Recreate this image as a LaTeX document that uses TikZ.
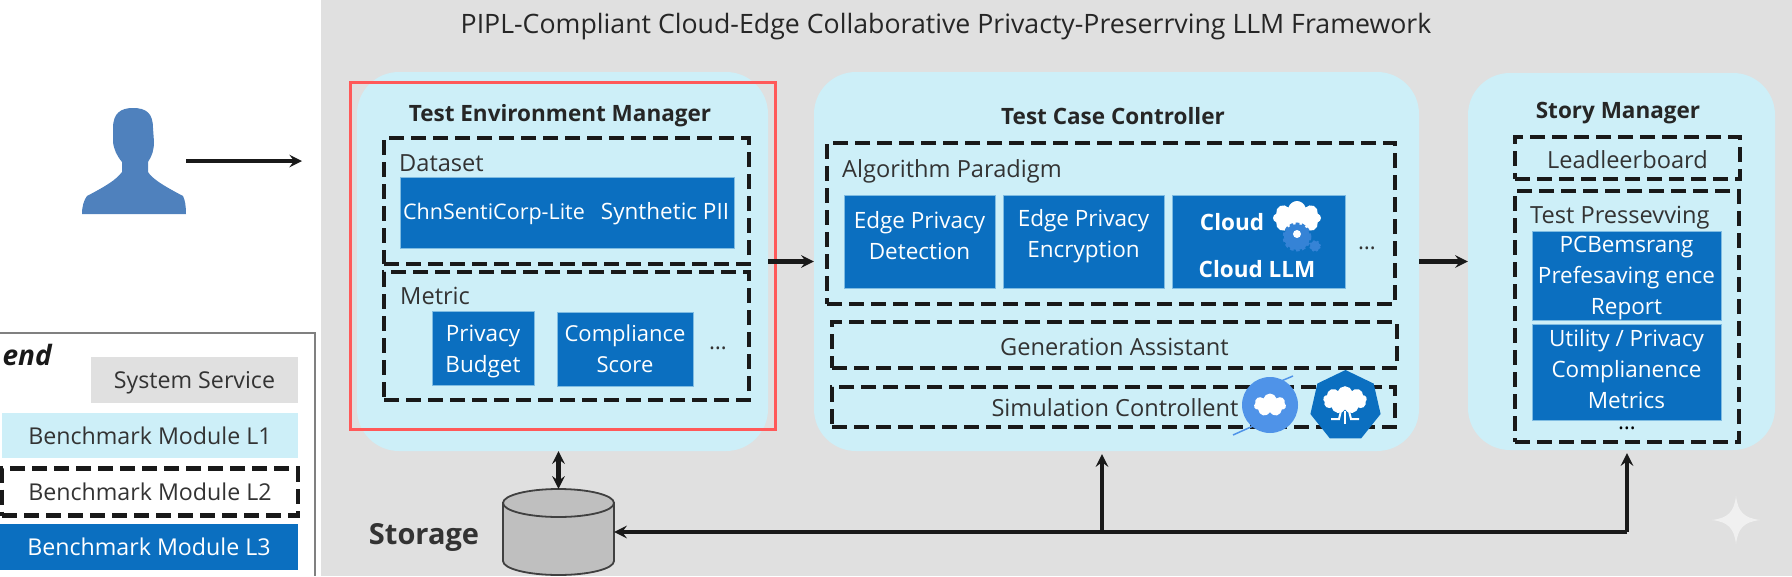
\documentclass[tikz,border=0pt]{standalone}
\usepackage{fontspec}
\setmainfont{Open Sans}
\usetikzlibrary{shapes.geometric,shapes.symbols}
\definecolor{paneGray}{HTML}{E0E0E0}
\definecolor{paneCyan}{HTML}{CDEFF8}
\definecolor{boxBlue}{HTML}{0B6FC0}
\definecolor{personBlue}{HTML}{4F81BD}
\definecolor{badgeBlue}{HTML}{4F93E8}
\definecolor{gearBlue}{HTML}{3583D6}
\definecolor{inkDark}{HTML}{333333}
\begin{document}
\begin{tikzpicture}[x=1pt,y=-1pt,node distance=164pt]
\tikzstyle{service} = [rectangle, fill=paneGray, text=inkDark, inner sep=0pt, text depth=0pt, font=\fontsize{23.2}{31}\selectfont]
\tikzstyle{l1} = [rectangle, rounded corners=42pt, fill=paneCyan, inner sep=0pt]
\tikzstyle{l2} = [rectangle, draw=black!90, line width=4.6pt, dash pattern=on 15pt off 7pt, text=inkDark, inner sep=0pt, font=\fontsize{23.6}{31}\selectfont]
\tikzstyle{l3} = [rectangle, fill=boxBlue, draw=paneCyan!60!boxBlue, line width=0.8pt, text=white, align=center, inner sep=0pt, font=\fontsize{22.5}{31}\selectfont]
\tikzstyle{heading} = [text=black!85, inner sep=0pt, font=\fontsize{22.5}{27}\selectfont\bfseries]
\tikzstyle{tagtext} = [anchor=west, text=inkDark, inner sep=0pt, font=\fontsize{23.6}{27}\selectfont]
\tikzstyle{bluetext} = [text=white, align=center, inner sep=0pt, font=\fontsize{22.5}{31}\selectfont]
\tikzstyle{dots} = [text=inkDark, inner sep=0pt, font=\fontsize{22.5}{27}\selectfont]
\tikzstyle{drum} = [draw=black!75, fill=black!25, line width=1.8pt]
\tikzstyle{arrow} = [line width=4.4pt,->,>=stealth,black!90]
\tikzstyle{twoway} = [line width=4.4pt,<->,>=stealth,black!90]
\useasboundingbox (0,0) rectangle (1792,576);
%
\node (backdrop) [rectangle, fill=paneGray, inner sep=0pt, minimum width=1471pt, minimum height=576pt] at (1056.5,288) {};
\node (maintitle) [text=black!85, inner sep=0pt, font=\fontsize{26.7}{30}\selectfont] at (946,27) {PIPL-Compliant Cloud-Edge Collaborative Privacty-Preserrving LLM Framework};
%
% user on the left
\node (user) [inner sep=0pt, minimum width=104pt, minimum height=106pt] at (134,161) {};
\fill [personBlue] (113,128) .. controls (113,113) and (121,108) .. (133,108) .. controls (146,108) and (153,113) .. (153,128) -- (154,142) .. controls (154,150) and (152,156) .. (148,162) -- (148,172) .. controls (152,178) and (160,184) .. (183,196) .. controls (185,200) and (186,206) .. (186,214) -- (82,214) .. controls (82,206) and (84,200) .. (87,196) .. controls (106,186) and (116,180) .. (122,172) -- (122,162) .. controls (117,156) and (114,150) .. (113,142) -- cycle;
\coordinate (entry) at (302,161);
\draw [arrow] (user.east) -- (entry);
%
% legend
\draw [line width=2.5pt, black!50] (0,333) -- (315,333) -- (315,576);
\node (legendword) [anchor=base east, inner sep=0pt, text=black!90, font=\fontsize{28}{30}\selectfont\bfseries\itshape] at (52,365) {end};
\node (legsys) [service, minimum width=207pt, minimum height=46pt] at (194.5,380) {System Service};
\node (legone) [service, fill=paneCyan, minimum width=296pt, minimum height=45pt] at (150,435.5) {Benchmark Module L1};
\node (legtwo) [l2, font=\fontsize{23.2}{31}\selectfont, minimum width=296pt, minimum height=47pt] at (150,492) {Benchmark Module L2};
\node (legthree) [l3, draw=none, font=\fontsize{23.2}{31}\selectfont, minimum width=298pt, minimum height=46pt] at (149,547) {Benchmark Module L3};
%
% the three managers
\node (envman) [l1, minimum width=411pt, minimum height=379pt] at (562.5,261.5) {};
\node (controller) [l1, minimum width=605pt, minimum height=379pt] at (1116.5,261.5) {};
\node (story) [l1, minimum width=307pt, minimum height=377pt] at (1621.5,261.5) {};
\node (envtitle) [heading] at (560,116) {Test Environment Manager};
\node (ctrltitle) [heading] at (1113,116) {Test Case Controller};
\node (storytitle) [heading] at (1618,113) {Story Manager};
%
% test environment manager
\node (dataset) [l2, minimum width=365pt, minimum height=126pt] at (566.5,201) {};
\node (datasetword) [tagtext] at (399,163) {Dataset};
\node (datablock) [l3, minimum width=334pt, minimum height=71pt] at (567,212.5) {};
\node (chnsenti) [bluetext, font=\fontsize{21.5}{27}\selectfont] at (494,214) {ChnSentiCorp-Lite};
\node (synthetic) [bluetext] at (665,214) {Synthetic PII};
\node (metric) [l2, minimum width=365pt, minimum height=128pt] at (566.5,336) {};
\node (metricword) [tagtext] at (400,296) {Metric};
\node (budget) [l3, minimum width=102pt, minimum height=74pt] at (483,348) {};
\node (budgetword) [bluetext] at (483,351) {Privacy\\Budget};
\node (compliance) [l3, font=\fontsize{22}{31}\selectfont, minimum width=136pt, minimum height=74pt] at (625,349) {Compliance\\Score};
\node (metricdots) [dots] at (718,348) {\ldots};
\node (redframe) [rectangle, draw=red!65!white, line width=3pt, inner sep=0pt, minimum width=425pt, minimum height=347pt] at (562.5,255.5) {};
%
% test case controller
\node (paradigm) [l2, minimum width=568pt, minimum height=161pt] at (1111,223.5) {};
\node (paradigmword) [tagtext] at (842,171) {Algorithm Paradigm};
\node (detection) [l3, minimum width=151pt, minimum height=93pt] at (919.5,241.5) {};
\node (encryption) [l3, minimum width=161pt, minimum height=93pt, right of=detection] {};
\node (cloudllm) [l3, minimum width=173pt, minimum height=93pt, right of=encryption, node distance=175pt] {};
\node (detectword) [bluetext] at (919.5,236) {Edge Privacy\\Detection};
\node (encryptword) [bluetext] at (1083.5,236) {Edge Privacy\\Encryption};
\node (cloudword) [bluetext, font=\fontsize{22.5}{27}\selectfont\bfseries] at (1232,222) {Cloud};
\node (llmword) [bluetext, font=\fontsize{22.5}{27}\selectfont\bfseries] at (1257,269) {Cloud LLM};
\node (puff) [cloud, fill=white, cloud puffs=8, aspect=1.4, inner sep=0pt, minimum width=48pt, minimum height=34pt] at (1297,218) {};
\node (gear) [circle, draw=gearBlue, fill=gearBlue, line width=3pt, dash pattern=on 3.5pt off 2.5pt, inner sep=0pt, minimum size=26pt] at (1297,237) {};
\node (gearhole) [circle, fill=white, inner sep=0pt, minimum size=8pt] at (1297,234) {};
\node (smallgear) [circle, draw=gearBlue, fill=gearBlue, line width=2pt, dash pattern=on 2pt off 2pt, inner sep=0pt, minimum size=10pt] at (1315,246) {};
\node (paradigmdots) [dots] at (1367,248) {\ldots};
\node (generation) [l2, text height=21pt, text depth=0pt, minimum width=565pt, minimum height=46pt] at (1114.5,345) {Generation Assistant};
\node (simulation) [l2, minimum width=563pt, minimum height=40pt] at (1113.5,407) {};
\node (simword) [text=inkDark, inner sep=0pt, font=\fontsize{23.6}{27}\selectfont] at (1115,408) {Simulation Controllent};
%
% cloud badges
\draw [line width=1.5pt, badgeBlue] (1233,435) -- (1262,422);
\draw [line width=1.5pt, badgeBlue] (1274,384) -- (1293,376);
\node (roundbadge) [circle, fill=badgeBlue, inner sep=0pt, minimum size=56pt] at (1270,405) {};
\node (roundpuff) [cloud, fill=white, cloud puffs=7, aspect=1.4, inner sep=0pt, minimum width=32pt, minimum height=23pt] at (1270,405) {};
\node (heptbadge) [regular polygon, regular polygon sides=7, fill=boxBlue, inner sep=0pt, minimum size=72pt] at (1345.5,406) {};
\node (heptpuff) [cloud, draw=white, fill=white, line width=1.5pt, cloud puffs=9, aspect=1.6, inner sep=0pt, minimum width=42pt, minimum height=26pt] at (1345,400) {};
\draw [line width=2pt, white] (1331,419) -- (1339,419) -- (1341,411);
\draw [line width=2pt, white] (1359,419) -- (1351,419) -- (1349,411);
\draw [line width=2pt, white] (1345,411) -- (1345,424);
%
% story manager
\node (board) [l2, text height=21pt, text depth=0pt, minimum width=225pt, minimum height=42pt] at (1627.5,158) {Leadleerboard};
\node (pressing) [l2, minimum width=224pt, minimum height=251pt] at (1627,316.5) {};
\node (pressword) [tagtext] at (1530,218) {Test Pressevving};
\node (report) [l3, minimum width=189pt, minimum height=89pt] at (1626.5,275.5) {};
\node (reportword) [bluetext] at (1626.5,278) {PCBemsrang\\Prefesaving ence\\Report};
\node (utility) [l3, minimum width=189pt, minimum height=96pt] at (1626.5,372) {};
\node (utilityword) [bluetext] at (1626.5,369) {Utility / Privacy\\Complianence\\Metrics};
\node (storydots) [dots, text=black] at (1627,428) {\ldots};
%
% storage
\node (storage) [inner sep=0pt, minimum width=111pt, minimum height=86pt] at (558.5,532) {};
\draw [drum] (503,503) -- (503,561) arc [start angle=180, end angle=0, x radius=55.5, y radius=14] -- (614,503) -- cycle;
\draw [drum] (558.5,503) ellipse [x radius=55.5, y radius=14];
\node (storageword) [text=inkDark, inner sep=0pt, font=\fontsize{29}{32}\selectfont\bfseries] at (424,537) {Storage};
\coordinate (junction) at (1102,532);
\coordinate (corner) at (1627,532);
%
\draw [twoway] (storage.north) -- (storage.north |- envman.south);
\draw [arrow] (envman.east) -- (controller.west);
\draw [arrow] (controller.east) -- (story.west);
\draw [line width=4.4pt, black!90] (corner) -- (junction);
\draw [arrow] (junction) -- (storage.east);
\draw [arrow, shorten >=3pt] (junction) -- (junction |- controller.south);
\draw [arrow, shorten >=3pt] (corner) -- (corner |- story.south);
%
% corner mark
\fill [white!94!black] (1736,496) .. controls (1738,512) and (1744,518) .. (1760,520) .. controls (1744,522) and (1738,528) .. (1736,544) .. controls (1734,528) and (1728,522) .. (1712,520) .. controls (1728,518) and (1734,512) .. cycle;
\end{tikzpicture}
\end{document}
